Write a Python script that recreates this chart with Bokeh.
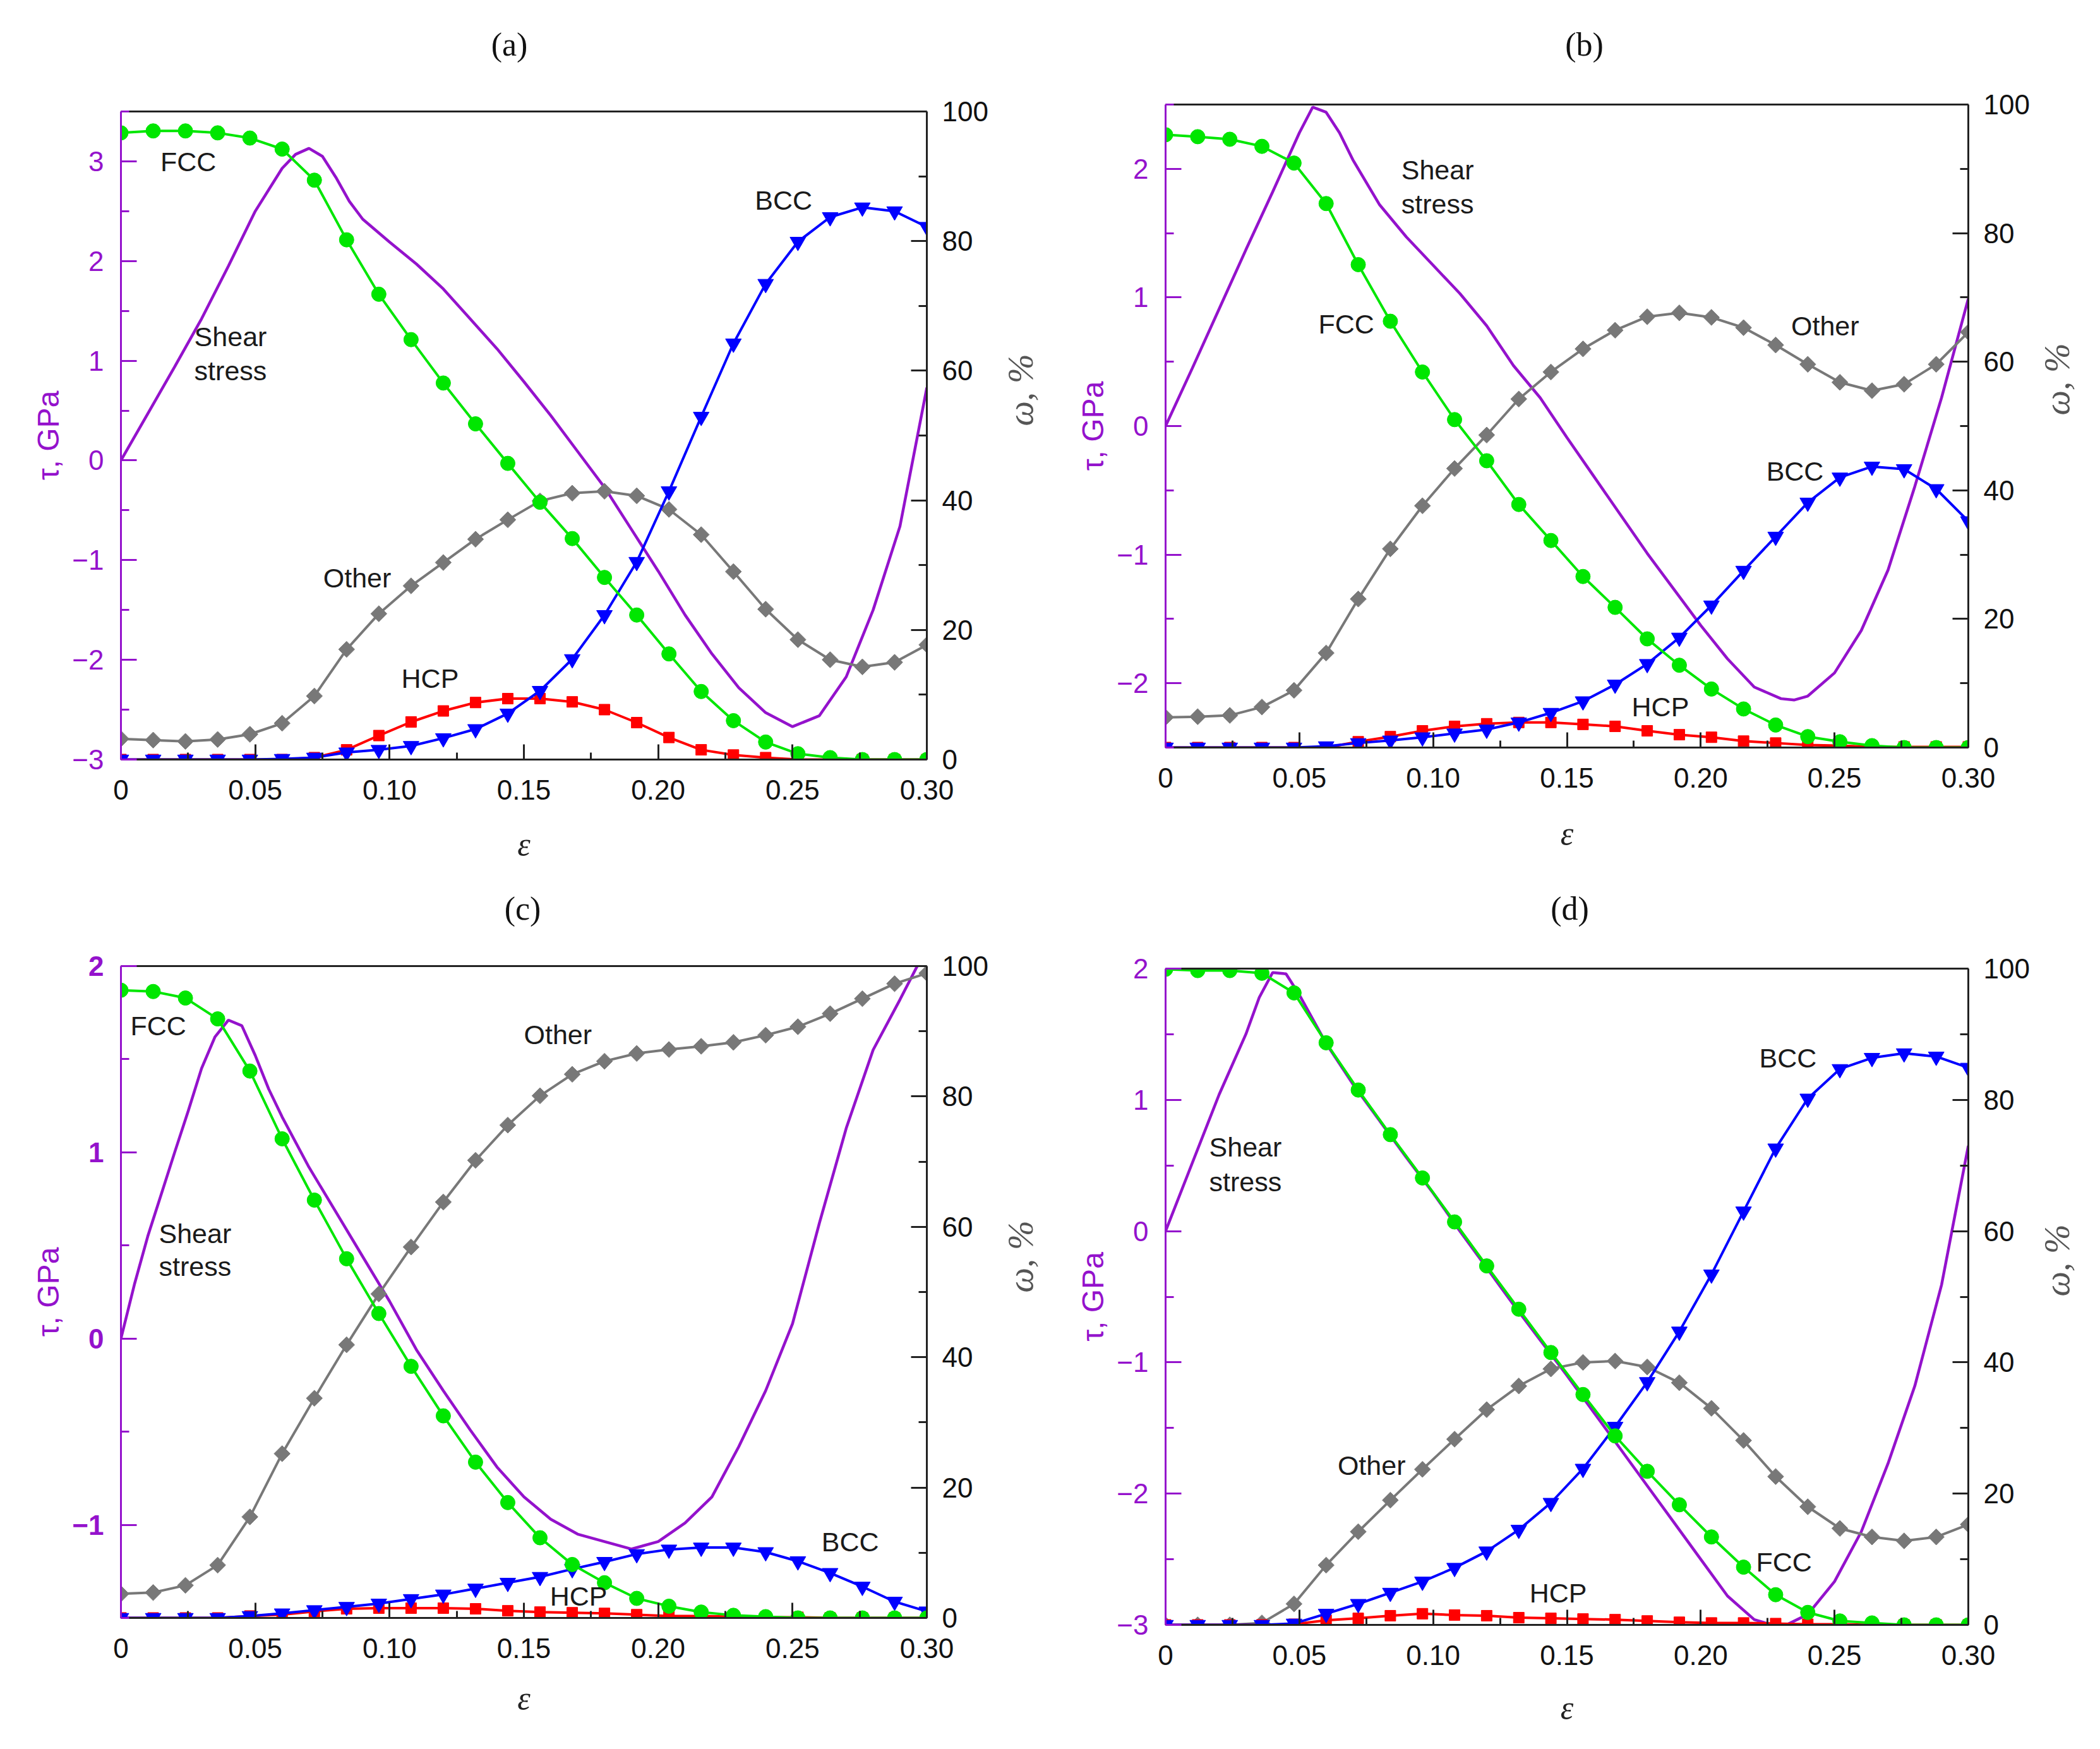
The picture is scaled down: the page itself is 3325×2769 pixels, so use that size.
import math

from bokeh.plotting import figure
from bokeh.models import Range1d, LinearAxis, FixedTicker, CustomJSTickFormatter, Label
from bokeh.layouts import row, column
from bokeh.embed import file_html
from bokeh.resources import INLINE

PURPLE = "#9412CC"
GREEN = "#00E600"
BLUE = "#0000FF"
RED = "#FF0000"
GRAY = "#787878"

# strain at which the phase fractions were sampled
STRAIN = [0.000, 0.012, 0.024, 0.036, 0.048, 0.060, 0.072, 0.084, 0.096, 0.108,
          0.120, 0.132, 0.144, 0.156, 0.168, 0.180, 0.192, 0.204, 0.216, 0.228,
          0.240, 0.252, 0.264, 0.276, 0.288, 0.300]

# ---- (a) ----
FCC_A = [96.7, 97.0, 97.0, 96.7, 95.9, 94.2, 89.4, 80.2, 71.8, 64.8, 58.1, 51.8, 45.7,
         39.7, 34.1, 28.1, 22.3, 16.3, 10.5, 6.0, 2.7, 0.9, 0.3, 0.0, 0.0, 0.0]
BCC_A = [0.0, 0.0, 0.0, 0.0, 0.0, 0.1, 0.3, 1.1, 1.5, 2.1, 3.3, 4.7, 7.1,
         10.6, 15.5, 22.3, 30.5, 41.4, 52.9, 64.2, 73.4, 79.9, 83.7, 85.2, 84.6, 82.2]
HCP_A = [0.0, 0.0, 0.0, 0.0, 0.0, 0.0, 0.3, 1.5, 3.7, 5.8, 7.5, 8.8, 9.4,
         9.4, 8.9, 7.7, 5.7, 3.4, 1.5, 0.7, 0.3, 0.0, 0.0, 0.0, 0.0, 0.0]
OTHER_A = [3.2, 3.0, 2.8, 3.1, 3.9, 5.6, 9.8, 17.0, 22.5, 26.8, 30.4, 34.0, 37.0,
           39.9, 41.1, 41.4, 40.7, 38.6, 34.7, 29.0, 23.2, 18.5, 15.4, 14.3, 15.0, 17.7]
SHEAR_X_A = [0.0, 0.01, 0.02, 0.03, 0.04, 0.05, 0.06, 0.065, 0.07, 0.075, 0.08,
             0.085, 0.09, 0.10, 0.11, 0.12, 0.13, 0.14, 0.15, 0.16, 0.17, 0.18, 0.19,
             0.20, 0.21, 0.22, 0.23, 0.24, 0.25, 0.26, 0.27, 0.28, 0.29, 0.30]
SHEAR_A = [0.0, 0.47, 0.94, 1.42, 1.95, 2.50, 2.93, 3.07, 3.13, 3.05, 2.84,
           2.60, 2.42, 2.19, 1.97, 1.72, 1.42, 1.12, 0.79, 0.45, 0.09, -0.27, -0.69,
           -1.11, -1.55, -1.94, -2.28, -2.53, -2.67, -2.56, -2.17, -1.50, -0.66, 0.73]

# ---- (b) ----
FCC_B = [95.3, 95.0, 94.6, 93.5, 90.9, 84.6, 75.1, 66.3, 58.4, 51.0, 44.6, 37.8, 32.2,
         26.6, 21.8, 16.9, 12.8, 9.1, 6.0, 3.5, 1.7, 0.9, 0.3, 0.0, 0.0, 0.0]
BCC_B = [0.0, 0.0, 0.0, 0.0, 0.0, 0.2, 0.7, 1.1, 1.6, 2.2, 2.8, 3.9, 5.4,
         7.2, 9.8, 13.0, 17.1, 22.1, 27.5, 32.8, 38.1, 42.0, 43.7, 43.3, 40.2, 35.2]
HCP_B = [0.0, 0.0, 0.0, 0.0, 0.0, 0.0, 0.9, 1.7, 2.6, 3.3, 3.7, 3.9, 3.9,
         3.6, 3.3, 2.6, 2.0, 1.6, 1.0, 0.7, 0.4, 0.3, 0.1, 0.1, 0.1, 0.1]
OTHER_B = [4.7, 4.8, 5.0, 6.3, 8.9, 14.7, 23.1, 30.9, 37.6, 43.4, 48.6, 54.2, 58.4,
           62.0, 64.9, 67.0, 67.6, 66.9, 65.3, 62.6, 59.6, 56.8, 55.5, 56.5, 59.6, 64.6]
SHEAR_X_B = [0.0, 0.01, 0.02, 0.03, 0.04, 0.045, 0.05, 0.055, 0.06, 0.065, 0.07,
             0.08, 0.09, 0.10, 0.11, 0.12, 0.13, 0.14, 0.15, 0.16, 0.17, 0.18,
             0.19, 0.20, 0.21, 0.22, 0.23, 0.235, 0.24, 0.25, 0.26, 0.27, 0.28,
             0.29, 0.30]
SHEAR_B = [0.0, 0.45, 0.91, 1.37, 1.82, 2.05, 2.28, 2.48, 2.44, 2.28, 2.07,
           1.72, 1.47, 1.25, 1.03, 0.78, 0.47, 0.22, -0.09, -0.39, -0.69, -0.99,
           -1.27, -1.55, -1.81, -2.03, -2.12, -2.13, -2.10, -1.92, -1.59, -1.12, -0.47,
           0.22, 0.99]

# ---- (c) ----
FCC_C = [96.3, 96.1, 95.1, 91.9, 83.9, 73.5, 64.1, 55.1, 46.7, 38.6, 31.0, 23.9, 17.7,
         12.3, 8.2, 5.4, 3.0, 1.8, 0.9, 0.4, 0.2, 0.0, 0.0, 0.0, 0.0, 0.0]
BCC_C = [0.0, 0.0, 0.0, 0.0, 0.3, 0.7, 1.2, 1.7, 2.2, 2.9, 3.6, 4.5, 5.4,
         6.3, 7.5, 8.6, 9.8, 10.5, 10.8, 10.8, 10.1, 8.7, 6.9, 4.8, 2.5, 1.0]
HCP_C = [0.0, 0.0, 0.0, 0.0, 0.3, 0.5, 1.0, 1.4, 1.5, 1.5, 1.5, 1.4, 1.1,
         0.9, 0.8, 0.7, 0.5, 0.3, 0.3, 0.2, 0.1, 0.1, 0.0, 0.0, 0.0, 0.0]
OTHER_C = [3.7, 3.9, 5.0, 8.1, 15.5, 25.2, 33.7, 41.9, 49.7, 56.9, 63.8, 70.2, 75.6,
           80.1, 83.4, 85.4, 86.6, 87.2, 87.7, 88.3, 89.4, 90.7, 92.7, 95.0, 97.3, 98.9]
SHEAR_X_C = [0.0, 0.005, 0.01, 0.02, 0.025, 0.03, 0.035, 0.04, 0.045, 0.05, 0.055,
             0.06, 0.07, 0.08, 0.09, 0.10, 0.11, 0.12, 0.13, 0.14, 0.15, 0.16,
             0.17, 0.18, 0.19, 0.20, 0.21, 0.22, 0.23, 0.24, 0.25, 0.26, 0.27,
             0.28, 0.29, 0.30]
SHEAR_C = [0.0, 0.29, 0.55, 1.00, 1.22, 1.45, 1.62, 1.71, 1.68, 1.52, 1.34,
           1.19, 0.92, 0.68, 0.44, 0.20, -0.06, -0.28, -0.49, -0.69, -0.85, -0.97,
           -1.05, -1.09, -1.13, -1.09, -0.99, -0.85, -0.58, -0.28, 0.08, 0.62, 1.13,
           1.55, 1.82, 2.10]

# ---- (d) ----
FCC_D = [99.9, 99.7, 99.7, 99.3, 96.3, 88.7, 81.5, 74.7, 68.1, 61.4, 54.7, 48.1, 41.5,
         35.1, 28.8, 23.4, 18.3, 13.4, 8.8, 4.6, 1.9, 0.6, 0.3, 0.0, 0.0, 0.0]
BCC_D = [0.0, 0.0, 0.0, 0.0, 0.2, 1.7, 3.2, 4.9, 6.6, 8.7, 11.2, 14.5, 18.6,
         23.8, 30.2, 37.0, 44.7, 53.4, 63.0, 72.6, 80.2, 84.7, 86.4, 87.1, 86.6, 84.9]
HCP_D = [0.0, 0.0, 0.0, 0.0, 0.1, 0.7, 1.0, 1.4, 1.7, 1.5, 1.4, 1.1, 1.0,
         0.9, 0.8, 0.6, 0.4, 0.3, 0.3, 0.2, 0.1, 0.1, 0.0, 0.0, 0.0, 0.0]
OTHER_D = [0.0, 0.0, 0.0, 0.3, 3.2, 9.1, 14.2, 19.0, 23.7, 28.3, 32.8, 36.4, 39.0,
           40.0, 40.2, 39.3, 36.9, 33.0, 28.1, 22.6, 18.0, 14.7, 13.4, 12.8, 13.4, 15.3]
SHEAR_X_D = [0.0, 0.01, 0.02, 0.03, 0.035, 0.04, 0.045, 0.05, 0.06, 0.07, 0.08,
             0.09, 0.10, 0.11, 0.12, 0.13, 0.14, 0.15, 0.16, 0.17, 0.18, 0.19,
             0.20, 0.21, 0.22, 0.23, 0.24, 0.25, 0.26, 0.27, 0.28, 0.29, 0.30]
SHEAR_D = [0.0, 0.52, 1.04, 1.50, 1.78, 1.97, 1.96, 1.80, 1.43, 1.12, 0.84,
           0.56, 0.29, 0.00, -0.28, -0.56, -0.83, -1.10, -1.38, -1.66, -1.94, -2.22,
           -2.50, -2.78, -2.96, -3.02, -2.92, -2.67, -2.29, -1.77, -1.18, -0.41, 0.65]

X_TICKS = [0.0, 0.05, 0.10, 0.15, 0.20, 0.25, 0.30]
X_MINOR = [0.025, 0.075, 0.125, 0.175, 0.225, 0.275]
W_TICKS = [0, 20, 40, 60, 80, 100]
W_MINOR = [10, 30, 50, 70, 90]

# text, strain, omega (left edge / vertical centre of the label)
NOTES_A = [("FCC", 0.0147, 92.3), ("Shear", 0.0273, 65.3), ("stress", 0.0273, 60.0),
           ("Other", 0.0753, 28.0), ("HCP", 0.1044, 12.5), ("BCC", 0.236, 86.3)]
NOTES_B = [("Shear", 0.0881, 89.8), ("stress", 0.0881, 84.5), ("FCC", 0.0571, 65.9),
           ("Other", 0.2338, 65.6), ("BCC", 0.2245, 43.0), ("HCP", 0.1742, 6.3)]
NOTES_C = [("FCC", 0.0035, 90.8), ("Other", 0.150, 89.5), ("Shear", 0.0141, 59.0),
           ("stress", 0.0141, 53.9), ("BCC", 0.2608, 11.7), ("HCP", 0.1597, 3.3)]
NOTES_D = [("Shear", 0.0163, 72.8), ("stress", 0.0163, 67.5), ("BCC", 0.2219, 86.4),
           ("Other", 0.0643, 24.3), ("FCC", 0.2207, 9.6), ("HCP", 0.136, 4.9)]

# panel geometry in pixels: size, frame borders (left, top, right, bottom),
# title centre x, title height above frame, eps standoff, omega label centre y/gap
LAYOUT_A = dict(width=1680, border=(191, 176, 213, 172), title_x=806, title_up=102,
                eps_gap=39, omega_y=674, omega_gap=42)
LAYOUT_B = dict(width=1643, border=(165, 165, 207, 191), title_x=828, title_up=91,
                eps_gap=41, omega_y=657, omega_gap=34)
LAYOUT_C = dict(width=1680, border=(191, 155, 213, 187), title_x=827, title_up=87,
                eps_gap=32, omega_y=672, omega_gap=42)
LAYOUT_D = dict(width=1643, border=(165, 159, 207, 176), title_x=805, title_up=91,
                eps_gap=36, omega_y=678, omega_gap=34)

H = 1374
TICK_FONT = "44px"
SANS = "Liberation Sans"
SERIF = "Liberation Serif"
INK = "#222222"

X_FMT = "return tick == 0 ? '0' : tick.toFixed(2);"
Y_FMT = "return tick < 0 ? '\u2212' + (-tick) : String(tick);"


def make_panel(tag, tau_lim, tau_ticks, shear_x, shear_tau, fcc, bcc, hcp, other,
               notes, lay, bold_ticks=False):
    width = lay["width"]
    left, top, right, bottom = lay["border"]
    fw = width - left - right
    fh = H - top - bottom
    p = figure(width=width, height=H, x_range=Range1d(0, 0.30), y_range=Range1d(*tau_lim),
               output_backend="svg", toolbar_location=None,
               min_border_left=left, min_border_top=top,
               min_border_right=right, min_border_bottom=bottom)
    p.title.visible = False
    p.extra_y_ranges = {"w": Range1d(0, 100)}
    p.xgrid.visible = False
    p.ygrid.visible = False
    p.outline_line_color = None
    p.background_fill_color = "white"
    p.border_fill_color = "white"

    xa = p.below[0]
    xa.ticker = FixedTicker(ticks=X_TICKS, minor_ticks=X_MINOR)
    xa.formatter = CustomJSTickFormatter(code=X_FMT)
    xa.axis_label = "ε"
    xa.axis_label_text_font = SERIF
    xa.axis_label_text_font_style = "italic"
    xa.axis_label_text_font_size = "52px"
    xa.axis_label_text_color = INK
    xa.axis_label_standoff = lay["eps_gap"]
    xa.major_label_text_font = SANS
    xa.major_label_text_font_size = TICK_FONT
    xa.major_label_text_color = "#111111"
    xa.major_label_standoff = 32
    xa.axis_line_width = 3
    xa.axis_line_color = INK
    xa.major_tick_in, xa.major_tick_out = 24, 0
    xa.minor_tick_in, xa.minor_tick_out = 11, 0
    xa.major_tick_line_width = 3
    xa.minor_tick_line_width = 3
    xa.major_tick_line_color = INK
    xa.minor_tick_line_color = INK

    ya = p.left[0]
    ya.ticker = FixedTicker(ticks=tau_ticks,
                            minor_ticks=[t + 0.5 for t in tau_ticks] + [tau_ticks[0] - 0.5])
    ya.formatter = CustomJSTickFormatter(code=Y_FMT)
    ya.axis_label = "τ, GPa"
    ya.axis_label_text_font = SANS
    ya.axis_label_text_font_style = "normal"
    ya.axis_label_text_font_size = "48px"
    ya.axis_label_text_color = PURPLE
    ya.axis_label_standoff = 8
    ya.major_label_text_font = SANS
    ya.major_label_text_font_size = TICK_FONT
    ya.major_label_text_font_style = "bold" if bold_ticks else "normal"
    ya.major_label_text_color = PURPLE
    ya.major_label_standoff = 27
    ya.axis_line_width = 3
    ya.axis_line_color = PURPLE
    ya.major_tick_in, ya.major_tick_out = 25, 0
    ya.minor_tick_in, ya.minor_tick_out = 13, 0
    ya.major_tick_line_width = 3
    ya.minor_tick_line_width = 3
    ya.major_tick_line_color = PURPLE
    ya.minor_tick_line_color = PURPLE

    wa = LinearAxis(y_range_name="w",
                    ticker=FixedTicker(ticks=W_TICKS, minor_ticks=W_MINOR),
                    major_label_text_font=SANS,
                    major_label_text_font_size=TICK_FONT,
                    major_label_text_color="#111111",
                    major_label_standoff=24,
                    axis_line_width=3, axis_line_color=INK,
                    major_tick_in=25, major_tick_out=0,
                    minor_tick_in=13, minor_tick_out=0,
                    major_tick_line_width=3, minor_tick_line_width=3,
                    major_tick_line_color=INK, minor_tick_line_color=INK)
    p.add_layout(wa, "right")

    # right axis name, reading upwards, as the single label of an outer axis
    omega_at = 100 - (lay["omega_y"] - top) / fh * 100
    name_axis = LinearAxis(y_range_name="w",
                           ticker=FixedTicker(ticks=[omega_at], minor_ticks=[]),
                           formatter=CustomJSTickFormatter(code="return 'ω, %';"),
                           axis_line_color=None, major_tick_line_color=None,
                           minor_tick_line_color=None,
                           major_label_orientation=math.pi / 2,
                           major_label_standoff=lay["omega_gap"],
                           major_label_text_font=SERIF,
                           major_label_text_font_style="italic",
                           major_label_text_font_size="56px",
                           major_label_text_color="#555555")
    p.add_layout(name_axis, "right")

    # top frame line, carrying the panel tag as its single label
    title_at = (lay["title_x"] - left) / fw * 0.30
    top_axis = LinearAxis(ticker=FixedTicker(ticks=[title_at], minor_ticks=[]),
                          formatter=CustomJSTickFormatter(code="return %r;" % tag),
                          axis_line_width=3, axis_line_color=INK,
                          major_tick_line_color=None, minor_tick_line_color=None,
                          major_label_standoff=lay["title_up"] - 30,
                          major_label_text_font=SERIF,
                          major_label_text_font_size="52px",
                          major_label_text_color="#111111")
    p.add_layout(top_axis, "above")

    # shear stress on the left axis
    p.line(shear_x, shear_tau, line_color=PURPLE, line_width=4.5)

    # phase fractions on the right axis
    series = [(other, GRAY, "square", 18, math.pi / 4), (hcp, RED, "square", 17, 0),
              (bcc, BLUE, "inverted_triangle", 25, 0), (fcc, GREEN, "circle", 23, 0)]
    for vals, color, marker, size, ang in series:
        p.line(STRAIN, vals, y_range_name="w", line_color=color, line_width=4)
        p.scatter(STRAIN, vals, y_range_name="w", marker=marker, size=size, angle=ang,
                  fill_color=color, line_color=color)

    for text, x, w in notes:
        p.add_layout(Label(x=x, y=w, y_range_name="w", text=text,
                           text_font=SANS, text_font_size="43px",
                           text_color="#1a1a1a", text_baseline="middle",
                           text_align="left"))
    return p


pa = make_panel("(a)", (-3, 3.5), [-3, -2, -1, 0, 1, 2, 3], SHEAR_X_A, SHEAR_A,
                FCC_A, BCC_A, HCP_A, OTHER_A, NOTES_A, LAYOUT_A)
pb = make_panel("(b)", (-2.5, 2.5), [-2, -1, 0, 1, 2], SHEAR_X_B, SHEAR_B,
                FCC_B, BCC_B, HCP_B, OTHER_B, NOTES_B, LAYOUT_B)
pc = make_panel("(c)", (-1.5, 2.0), [-1, 0, 1, 2], SHEAR_X_C, SHEAR_C,
                FCC_C, BCC_C, HCP_C, OTHER_C, NOTES_C, LAYOUT_C, bold_ticks=True)
pd = make_panel("(d)", (-3, 2), [-3, -2, -1, 0, 1, 2], SHEAR_X_D, SHEAR_D,
                FCC_D, BCC_D, HCP_D, OTHER_D, NOTES_D, LAYOUT_D)

page = row(column(pa, pc), column(pb, pd))

with open("out.html", "w", encoding="utf-8") as f:
    f.write(file_html(page, INLINE))
